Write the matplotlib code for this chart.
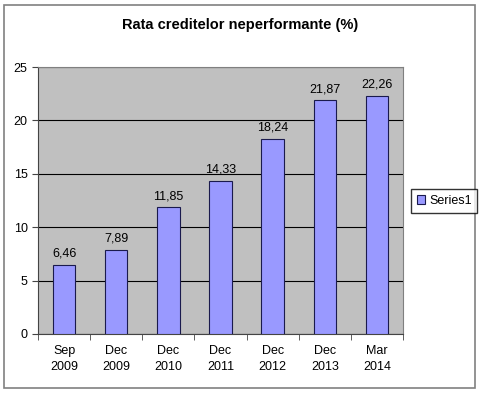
import matplotlib
matplotlib.use("Agg")
import matplotlib.pyplot as plt
import numpy as np
from matplotlib.patches import Rectangle

plt.rcParams["font.family"] = ["Liberation Sans", "DejaVu Sans"]

categories = ["Sep\n2009", "Dec\n2009", "Dec\n2010", "Dec\n2011", "Dec\n2012", "Dec\n2013", "Mar\n2014"]
values = [6.46, 7.89, 11.85, 14.33, 18.24, 21.87, 22.26]
value_labels = ["6,46", "7,89", "11,85", "14,33", "18,24", "21,87", "22,26"]
y_ticks = [0, 5, 10, 15, 20, 25]

fig = plt.figure(figsize=(4.8, 3.93), dpi=100)
fig.patches.append(Rectangle((4 / 480, 5 / 393), 471 / 480, 383 / 393, transform=fig.transFigure,
                             fill=False, ec="#808080", lw=1.2))

ax = fig.add_axes([38 / 480, 1 - 334 / 393, 365 / 480, 267 / 393])
ax.set_facecolor("#C0C0C0")

x = np.arange(len(values))
ax.set_axisbelow(True)
ax.yaxis.grid(True, color="black", lw=0.8)
ax.bar(x, values, width=0.43, color="#9999FF", ec="#1a1a4d", lw=0.8, label="Series1", zorder=3)

for xi, v, lab in zip(x, values, value_labels):
    ax.text(xi, v + 0.5, lab, ha="center", va="bottom", fontsize=9)

ax.set_xlim(-0.5, len(values) - 0.5)
ax.set_ylim(0, 25)
ax.set_yticks(y_ticks)
ax.set_xticks(x)
ax.set_xticklabels(categories, fontsize=9, linespacing=1.45)
ax.set_xticks(np.arange(-0.5, len(values)), minor=True)
ax.tick_params(axis="x", which="major", length=0, pad=8)
ax.tick_params(axis="x", which="minor", length=4, color="#444444")
ax.tick_params(axis="y", labelsize=9, length=4, color="#444444")
for s in ["top", "right"]:
    ax.spines[s].set_color("#808080")
for s in ["left", "bottom"]:
    ax.spines[s].set_color("#444444")

fig.text(0.5, 1 - 25 / 393, "Rata creditelor neperformante (%)", ha="center", va="center",
         fontsize=10.5, fontweight="bold")

fig.legend(loc="center left", bbox_to_anchor=(411 / 480, 1 - 201 / 393), fontsize=9,
           frameon=True, fancybox=False, edgecolor="black", handlelength=0.7, handleheight=0.7,
           handletextpad=0.3, borderpad=0.45, borderaxespad=0)

fig.savefig("out.png", dpi=100)
